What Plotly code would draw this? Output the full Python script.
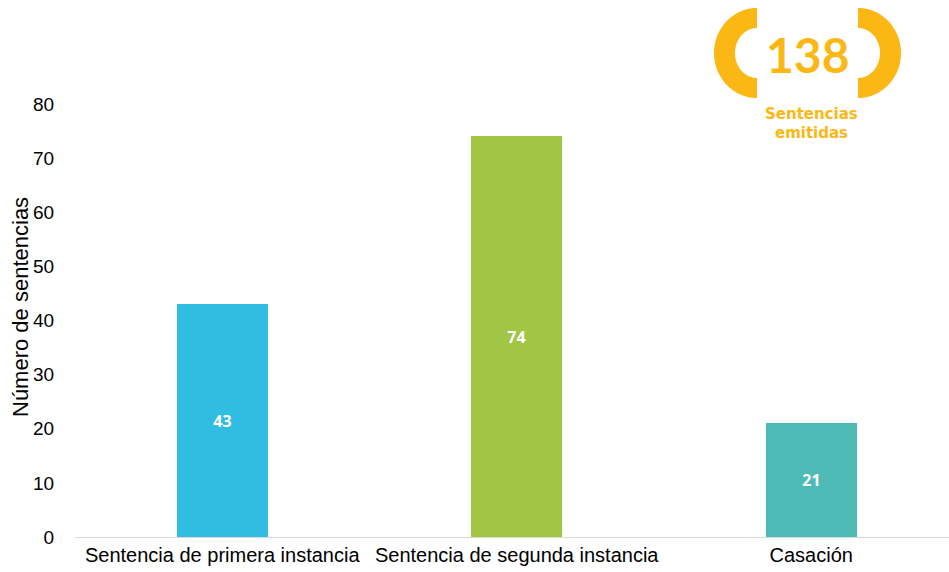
import numpy as np
import plotly.graph_objects as go

# Sentences issued by instance
categories = ["Sentencia de primera instancia", "Sentencia de segunda instancia", "Casación"]
values = [43, 74, 21]
bar_colors = ["#31BDE1", "#A1C646", "#4EBAB5"]
total_label = "138"

W, H = 949, 572
M_L, M_R, M_T, M_B = 75, 0, 104, 35
PW, PH = W - M_L - M_R, H - M_T - M_B


def px_to_paper(px, py):
    return (px - M_L) / PW, (H - M_B - py) / PH


fig = go.Figure(
    go.Bar(
        x=categories,
        y=values,
        marker=dict(color=bar_colors, line=dict(width=0)),
        width=0.31,
        text=[str(v) for v in values],
        textposition="inside",
        insidetextanchor="middle",
        textfont=dict(family="Open Sans", size=16, color="white", weight="bold"),
        hoverinfo="skip",
    )
)

# Badge: two thick brackets around the total
ORANGE = "#FBB714"


def bracket_path(cx, cy, rx_o, ry_o, rx_i, ry_i, side):
    t = np.linspace(np.pi / 2, 3 * np.pi / 2, 60)
    sgn = 1 if side == "left" else -1
    outer = [(cx + sgn * rx_o * np.cos(a), cy - ry_o * np.sin(a)) for a in t]
    inner = [(cx + sgn * rx_i * np.cos(a), cy - ry_i * np.sin(a)) for a in t[::-1]]
    pts = [px_to_paper(x, y) for x, y in outer + inner]
    return "M " + " L ".join(f"{x:.5f},{y:.5f}" for x, y in pts) + " Z"


for cx, side in [(757, "left"), (858, "right")]:
    fig.add_shape(
        type="path",
        path=bracket_path(cx, 53, 43, 45, 22, 25, side),
        xref="paper", yref="paper",
        fillcolor=ORANGE, line=dict(width=0),
        layer="above",
    )

bx, by = px_to_paper(807.5, 55)
fig.add_annotation(
    x=bx, y=by, xref="paper", yref="paper", text=total_label, showarrow=False,
    font=dict(family="Lato", size=48, color=ORANGE, weight="bold"),
    xanchor="center", yanchor="middle",
)
for line, py in [("Sentencias", 114), ("emitidas", 133)]:
    lx, ly = px_to_paper(811, py)
    fig.add_annotation(
        x=lx, y=ly, xref="paper", yref="paper", text=line, showarrow=False,
        font=dict(family="DejaVu Sans", size=15, color=ORANGE, weight="bold"),
        xanchor="center", yanchor="middle",
    )

# Y-axis title placed as a rotated annotation
tx, ty = px_to_paper(20, 307)
fig.add_annotation(
    x=tx, y=ty, xref="paper", yref="paper", text="Número de sentencias",
    showarrow=False, textangle=-90,
    font=dict(family="Liberation Sans, Arial", size=22, color="#000000"),
    xanchor="center", yanchor="middle",
)

fig.update_layout(
    width=W, height=H,
    margin=dict(l=M_L, r=M_R, t=M_T, b=M_B, pad=0),
    paper_bgcolor="white", plot_bgcolor="white",
    showlegend=False,
    font=dict(family="Liberation Sans, Arial", color="#000000"),
    bargap=0,
    xaxis=dict(
        range=[-0.5, 2.468],
        showline=True, linecolor="#D9D9D9", linewidth=1,
        showgrid=False, ticks="",
        tickfont=dict(size=20),
    ),
    yaxis=dict(
        range=[0, 80], dtick=10,
        showgrid=False, zeroline=False, showline=False,
        ticks="outside", ticklen=16, tickcolor="rgba(0,0,0,0)",
        tickfont=dict(size=19),
    ),
)

fig.write_html("out.html")
